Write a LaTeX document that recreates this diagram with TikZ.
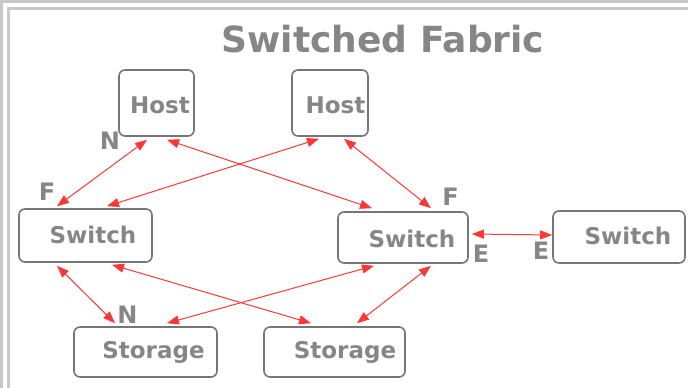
\documentclass[tikz,border=0pt]{standalone}
\usepackage{fontspec}
\setmainfont{DejaVu Sans}
\usetikzlibrary{arrows.meta,calc}
\definecolor{framegray}{RGB}{200,200,200}
\definecolor{txtgray}{RGB}{134,134,134}
\definecolor{boxgray}{RGB}{118,118,118}
\definecolor{linkred}{RGB}{255,55,55}
\tikzset{
  box/.style={draw=boxgray, line width=1.6pt, rounded corners=6pt, fill=white, inner sep=0pt},
  boxtext/.style={text=txtgray, font=\fontsize{23}{23}\selectfont\bfseries, anchor=base, inner sep=0pt},
  portlbl/.style={text=txtgray, font=\fontsize{24}{24}\selectfont\bfseries, anchor=base, inner sep=0pt},
  titletext/.style={text=txtgray, font=\fontsize{36}{36}\selectfont\bfseries, anchor=base, inner sep=0pt},
  link/.style={draw=linkred, line width=1pt, >={Triangle[length=12pt,width=9pt]}, <->}
}
\begin{document}
\begin{tikzpicture}[x=1pt,y=-1pt]
\useasboundingbox (0,0) rectangle (688,388);
% frame
\fill[framegray] (0,0) rectangle (688,3);
\fill[framegray] (0,0) rectangle (2.5,388);
\fill[framegray] (7,7) rectangle (688,10);
\fill[framegray] (7,7) rectangle (10,388);
% title
\node[titletext] (title) at (383,52) {Switched Fabric};
% boxes
\node[box, minimum width=75pt, minimum height=66pt] (h1) at (156.5,103) {};
\node[box, minimum width=76pt, minimum height=66pt] (h2) at (330,103) {};
\node[box, minimum width=133pt, minimum height=53pt] (sw1) at (85.5,235.5) {};
\node[box, minimum width=130pt, minimum height=51pt] (sw2) at (403,237.5) {};
\node[box, minimum width=132pt, minimum height=52pt] (sw3) at (619,237) {};
\node[box, minimum width=143pt, minimum height=50pt] (st1) at (145.5,352) {};
\node[box, minimum width=141pt, minimum height=50pt] (st2) at (334.5,352) {};
% box texts
\node[boxtext] (h1t) at (160,113) {Host};
\node[boxtext] (h2t) at (335.5,113) {Host};
\node[boxtext] (sw1t) at (93,243) {Switch};
\node[boxtext] (sw2t) at (412,247) {Switch};
\node[boxtext] (sw3t) at (628,244) {Switch};
\node[boxtext] (st1t) at (153.5,358) {Storage};
\node[boxtext] (st2t) at (345,358) {Storage};
% port labels
\node[portlbl] (n1) at (110,149) {N};
\node[portlbl] (f1) at (47,200) {F};
\node[portlbl] (f2) at (450.5,205) {F};
\node[portlbl] (e1) at (481,262) {E};
\node[portlbl] (e2) at (541,259) {E};
\node[portlbl] (n2) at (127.5,323) {N};
% links
\draw[link] ([xshift=-9.5pt,yshift=-3pt]h1.south) -- ([xshift=-28.5pt,yshift=2pt]sw1.north);
\draw[link] ([xshift=-11pt,yshift=-2pt]h2.south) -- ([xshift=21.5pt,yshift=2pt]sw1.north);
\draw[link] ([xshift=10.5pt,yshift=-3pt]h1.south) -- ([xshift=-31pt,yshift=3pt]sw2.north);
\draw[link] ([xshift=14pt,yshift=-2pt]h2.south) -- ([xshift=28pt,yshift=3pt]sw2.north);
\draw[link] ([xshift=3pt,yshift=3.5pt]sw2.east) -- ([yshift=2pt]sw3.west);
\draw[link] ([xshift=-28.5pt,yshift=-3pt]sw1.south) -- ([xshift=-30.5pt,yshift=3pt]st1.north);
\draw[link] ([xshift=26.5pt,yshift=-2pt]sw1.south) -- ([xshift=-23.5pt,yshift=3pt]st2.north);
\draw[link] ([xshift=-29pt,yshift=-2pt]sw2.south) -- ([xshift=21.5pt,yshift=3pt]st1.north);
\draw[link] ([xshift=28pt,yshift=-2pt]sw2.south) -- ([xshift=22.5pt,yshift=3pt]st2.north);
\end{tikzpicture}
\end{document}
